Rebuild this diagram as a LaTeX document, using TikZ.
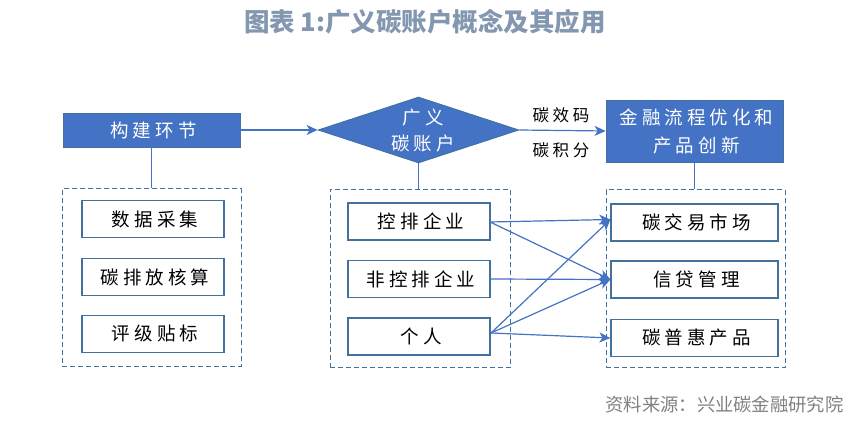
\documentclass[tikz,border=0pt]{standalone}
\usepackage{fontspec}
\setmainfont{Noto Sans CJK SC}
\newfontfamily\cjk{Noto Sans CJK SC}
\newfontfamily\cjkbox[LetterSpace=22]{Noto Sans CJK SC}
\usetikzlibrary{arrows.meta,shapes.geometric}
\definecolor{hdrblue}{HTML}{4472C4}
\definecolor{edgeblue}{HTML}{41719C}
\definecolor{titlegray}{HTML}{8497B0}
\definecolor{srcgray}{HTML}{808080}
\tikzset{
  hdr/.style={draw=edgeblue, line width=0.8pt, fill=hdrblue, text=white, inner sep=0pt, font=\cjkbox\fontsize{18.5}{28}\selectfont, align=center},
  itembox/.style={draw=edgeblue, line width=1.2pt, fill=white, inner sep=0pt, minimum height=37pt, font=\cjkbox\fontsize{18.5}{22}\selectfont},
  group/.style={draw=edgeblue, line width=1pt, dash pattern=on 5pt off 3pt, inner sep=0pt},
  conn/.style={draw=hdrblue, line width=1.2pt},
  arr/.style={conn, -{Stealth[length=11pt,width=10pt,inset=3pt]}},
}
\begin{document}
\begin{tikzpicture}[x=1pt,y=-1pt]
\useasboundingbox (0,0) rectangle (852,422);
% title
\node[font=\cjk\bfseries\fontsize{25.5}{30}\selectfont, text=titlegray] (title) at (425,22) {图表 1:广义碳账户概念及其应用};
% left column
\node[hdr, minimum width=177pt, minimum height=34pt] (build) at (151.5,130) {\hspace{4pt}构建环节};
\node[group, minimum width=179pt, minimum height=177pt] (gL) at (151.5,277.5) {};
\node[itembox, minimum width=142pt] (l1) at (153,219.2) {\hspace{4pt}数据采集};
\node[itembox, minimum width=142pt] (l2) at (153,277.3) {\hspace{4pt}碳排放核算};
\node[itembox, minimum width=142pt] (l3) at (153,333.8) {\hspace{4pt}评级贴标};
% diamond
\node[diamond, draw=edgeblue, line width=0.8pt, fill=hdrblue, inner sep=0pt, minimum width=201pt, minimum height=66pt, aspect=3] (acct) at (418.5,130) {};
\node[text=white, font=\cjkbox\fontsize{18.5}{26}\selectfont, align=center] (acctt) at (423,130) {广义\\碳账户};
% middle column
\node[group, minimum width=180pt, minimum height=178pt] (gM) at (420,278.5) {};
\node[itembox, minimum width=142pt] (m1) at (419,221.5) {\hspace{4pt}控排企业};
\node[itembox, minimum width=142pt] (m2) at (419,279.3) {\hspace{4pt}非控排企业};
\node[itembox, minimum width=142pt] (m3) at (419,336.5) {\hspace{4pt}个人};
% right column
\node[hdr, minimum width=177pt, minimum height=62pt] (fin) at (694.5,131) {\hspace{4pt}金融流程优化和\\\hspace{4pt}产品创新};
\node[group, minimum width=179pt, minimum height=178pt] (gR) at (695.5,278.8) {};
\node[itembox, minimum width=167pt] (r1) at (694.5,222.5) {\hspace{4pt}碳交易市场};
\node[itembox, minimum width=167pt] (r2) at (694.5,279.5) {\hspace{4pt}信贷管理};
\node[itembox, minimum width=167pt] (r3) at (694.5,338) {\hspace{4pt}碳普惠产品};
% labels
\node[font=\cjkbox\fontsize{16.5}{18}\selectfont] (lab1) at (561,115) {碳效码};
\node[font=\cjkbox\fontsize{16.5}{18}\selectfont] (lab2) at (561,150) {碳积分};
% source
\node[anchor=east, font=\cjk\fontsize{18.3}{22}\selectfont, text=srcgray] (src) at (847,404) {资料来源：兴业碳金融研究院};
% connectors
\draw[arr] (build.east) -- (acct.west);
\draw[arr] (acct.east) -- (fin.west);
\draw[conn] (build.south) -- (build.south |- gL.north);
\draw[conn] (acct.south) -- (acct.south |- gM.north);
\draw[conn] (fin.south) -- (fin.south |- gR.north);
\coordinate (s1) at (490,222);
\coordinate (s2) at (490,279);
\coordinate (s3) at (491,333);
\draw[arr] (s1) -- ([yshift=3pt]r1.west);
\draw[arr] (s1) -- (r2.west);
\draw[arr] (s2) -- (r2.west);
\draw[arr] (s3) -- ([yshift=3pt]r1.west);
\draw[arr] (s3) -- (r2.west);
\draw[arr] (s3) -- (r3.west);
\end{tikzpicture}
\end{document}
